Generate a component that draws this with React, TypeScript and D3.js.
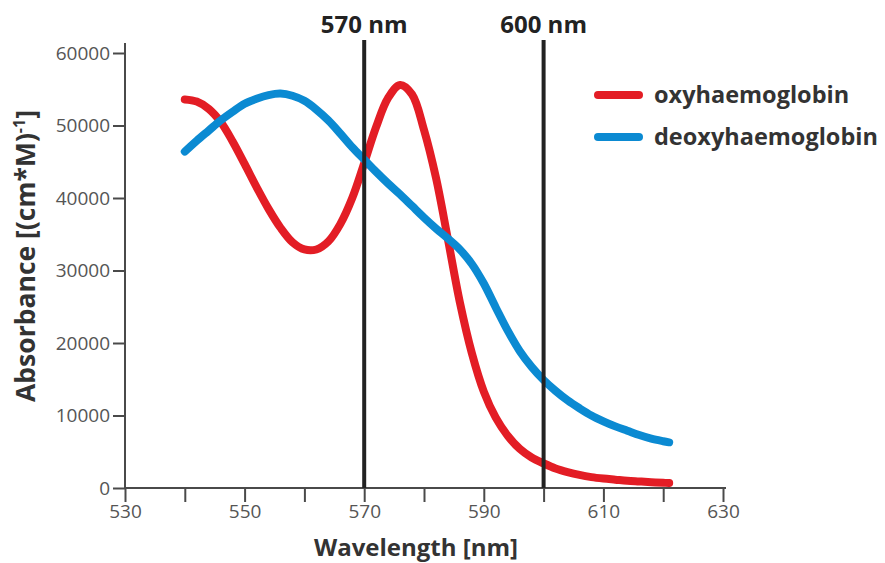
import React, { useEffect, useRef } from 'react';
import * as d3 from 'd3';

// wavelength (nm) sampled every 2 nm, last point at 621
const wavelengths = [
  540, 542, 544, 546, 548, 550, 552, 554, 556, 558, 560, 562, 564, 566, 568, 570,
  572, 574, 576, 578, 580, 582, 584, 586, 588, 590, 592, 594, 596, 598, 600,
  602, 604, 606, 608, 610, 612, 614, 616, 618, 620, 621,
];

const oxyValues = [
  53600, 53300, 52300, 50500, 47800, 44700, 41500, 38500, 35900, 33900, 32900, 32900, 34000, 36400, 40000, 44800,
  49800, 53800, 55600, 54300, 49400, 42800, 34300, 25600, 18600, 13300, 9700, 7200, 5400, 4200, 3400,
  2700, 2200, 1800, 1500, 1300, 1150, 1000, 900, 800, 720, 680,
];

const deoxyValues = [
  46400, 47900, 49300, 50700, 51900, 53000, 53700, 54200, 54400, 54100, 53400, 52200, 50700, 48900, 47000, 45300,
  43600, 42000, 40500, 38900, 37300, 35800, 34400, 32900, 30900, 28200, 24900, 21700, 18900, 16700, 14900,
  13400, 12100, 11000, 10000, 9200, 8500, 7900, 7300, 6800, 6450, 6300,
];

const xTicks = [530, 540, 550, 560, 570, 580, 590, 600, 610, 620, 630];
const yTicks = [0, 10000, 20000, 30000, 40000, 50000, 60000];
const markers = [570, 600];

const series = [
  { name: 'oxyhaemoglobin', values: oxyValues, color: '#e31d25' },
  { name: 'deoxyhaemoglobin', values: deoxyValues, color: '#0b8ad2' },
];

const FONT = "'Open Sans', 'DejaVu Sans', sans-serif";

const App: React.FC = () => {
  const svgRef = useRef<SVGSVGElement>(null);

  useEffect(() => {
    if (!svgRef.current) return;
    const svg = d3.select(svgRef.current);
    svg.selectAll('*').remove();

    const x = d3.scaleLinear().domain([530, 630]).range([125, 723]);
    const y = d3.scaleLinear().domain([0, 60000]).range([488, 53]);

    const axisColor = '#4a4a4a';

    // x axis
    const gx = svg.append('g').attr('transform', `translate(0,${y(0)})`);
    gx.call(
      d3.axisBottom(x)
        .tickValues(xTicks)
        .tickSize(14)
        .tickPadding(3)
        .tickFormat(d => ((+d - 530) % 20 === 0 ? String(d) : ''))
    );
    gx.select('.domain').remove();
    gx.append('line')
      .attr('x1', x(530) - 1).attr('x2', x(630) + 3)
      .attr('stroke', axisColor).attr('stroke-width', 2);
    gx.selectAll('.tick line').attr('stroke', axisColor).attr('stroke-width', 2);
    gx.selectAll('.tick text')
      .attr('fill', '#555').style('font-size', '19px').style('font-family', FONT);

    // y axis
    const gy = svg.append('g').attr('transform', `translate(${x(530)},0)`);
    gy.call(
      d3.axisLeft(y)
        .tickValues(yTicks)
        .tickSize(12)
        .tickPadding(3)
        .tickFormat(d3.format('d'))
    );
    gy.select('.domain').remove();
    gy.append('line')
      .attr('y1', 43).attr('y2', y(0) + 1)
      .attr('stroke', axisColor).attr('stroke-width', 2);
    gy.selectAll('.tick line').attr('stroke', axisColor).attr('stroke-width', 2);
    gy.selectAll('.tick text')
      .attr('fill', '#555').style('font-size', '19px').style('font-family', FONT);

    // axis titles
    svg.append('text')
      .attr('x', 416).attr('y', 556)
      .attr('text-anchor', 'middle')
      .attr('fill', '#333').style('font-family', FONT)
      .style('font-size', '24px').style('font-weight', 700)
      .text('Wavelength [nm]');

    const yt = svg.append('text')
      .attr('transform', 'translate(35,256) rotate(-90)')
      .attr('text-anchor', 'middle')
      .attr('fill', '#333').style('font-family', FONT)
      .style('font-size', '26.5px').style('font-weight', 700);
    yt.append('tspan').text('Absorbance [(cm*M)');
    yt.append('tspan').attr('dy', -10).style('font-size', '16px').text('-1');
    yt.append('tspan').attr('dy', 10).text(']');

    // curves
    const line = d3.line<number>()
      .x((_, i) => x(wavelengths[i]))
      .y(d => y(d))
      .curve(d3.curveCatmullRom);

    series.forEach(s => {
      svg.append('path')
        .datum(s.values)
        .attr('fill', 'none')
        .attr('stroke', s.color)
        .attr('stroke-width', 8)
        .attr('stroke-linecap', 'round')
        .attr('stroke-linejoin', 'round')
        .attr('d', line);
    });

    // marker lines
    markers.forEach(m => {
      svg.append('line')
        .attr('x1', x(m)).attr('x2', x(m))
        .attr('y1', 40).attr('y2', y(0))
        .attr('stroke', '#222').attr('stroke-width', 4);
      svg.append('text')
        .attr('x', x(m)).attr('y', 33)
        .attr('text-anchor', 'middle')
        .attr('fill', '#222').style('font-family', FONT)
        .style('font-size', '24px').style('font-weight', 700)
        .text(`${m} nm`);
    });

    // legend
    series.forEach((s, i) => {
      const ly = 95 + i * 42;
      svg.append('line')
        .attr('x1', 598).attr('x2', 639)
        .attr('y1', ly).attr('y2', ly)
        .attr('stroke', s.color).attr('stroke-width', 8)
        .attr('stroke-linecap', 'round');
      svg.append('text')
        .attr('x', 654).attr('y', ly + 8)
        .attr('fill', '#333').style('font-family', FONT)
        .style('font-size', '23.5px').style('font-weight', 700)
        .text(s.name);
    });
  }, []);

  return (
    <svg
      ref={svgRef}
      width={885}
      height={563}
      style={{ position: 'absolute', left: 0, top: 0, background: '#fff' }}
    />
  );
};

export default App;
